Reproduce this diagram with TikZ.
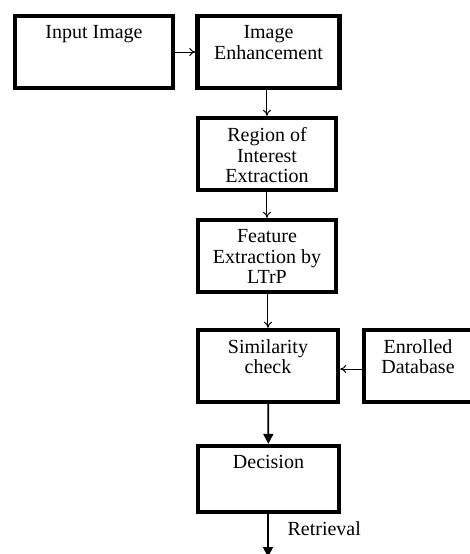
\documentclass[tikz,border=0pt]{standalone}
\usepackage{fontspec}
\setmainfont{Liberation Serif}
\usetikzlibrary{arrows.meta}

\begin{document}
\begin{tikzpicture}[
          x=0.5pt, y=-0.5pt,
          font=\fontsize{10}{10.3}\selectfont,
          stage/.style={
            rectangle,
            draw=black,
            line width=2.2pt,
            minimum height=36pt,
            inner sep=0pt,
          },
          caption/.style={
            anchor=north,
            align=center,
            inner sep=0pt,
            yshift=-5.6pt,
          },
          thin/.style={-{To[length=3pt,width=4pt]}, line width=0.5pt},
          heavy/.style={-{Triangle[length=5pt,width=5pt]}, line width=0.9pt},
        ]
          \useasboundingbox (0,0) rectangle (470,554);
          \node[stage, minimum width=79pt, label={[caption]north:Input Image}] (input) at (94,52) {};
          \node[stage, minimum width=71pt, label={[caption]north:Image\\Enhancement}] (enhance) at (268.5,52) {};
          \node[stage, minimum width=69pt, label={[caption]north:Region of\\Interest\\Extraction}] (roi) at (267,154) {};
          \node[stage, minimum width=69pt, label={[caption]north:Feature\\Extraction by\\LTrP}] (feature) at (267,256) {};
          \node[stage, minimum width=70pt, label={[caption]north:Similarity\\check}] (match) at (268,366) {};
          \node[stage, minimum width=54pt, label={[caption]north:Enrolled\\Database}] (db) at (418,366) {};
          \node[stage, minimum width=70.5pt, minimum height=33pt, label={[caption]north:Decision}] (decision) at (268.5,479) {};
          \coordinate (out) at (268,557);
          \draw
              (input) edge [thin] (enhance)
              (enhance.south -| roi) edge [thin] (roi)
              (roi) edge [thin] (feature)
              (feature.south -| match) edge [thin] (match)
              (db.west |- 0,369) edge [thin] (match.east |- 0,369)
              (match) edge [heavy] (decision)
              (decision.south -| out) edge [heavy] node[pos=0.33, right=6pt]{Retrieval} (out);
        \end{tikzpicture}
\end{document}
